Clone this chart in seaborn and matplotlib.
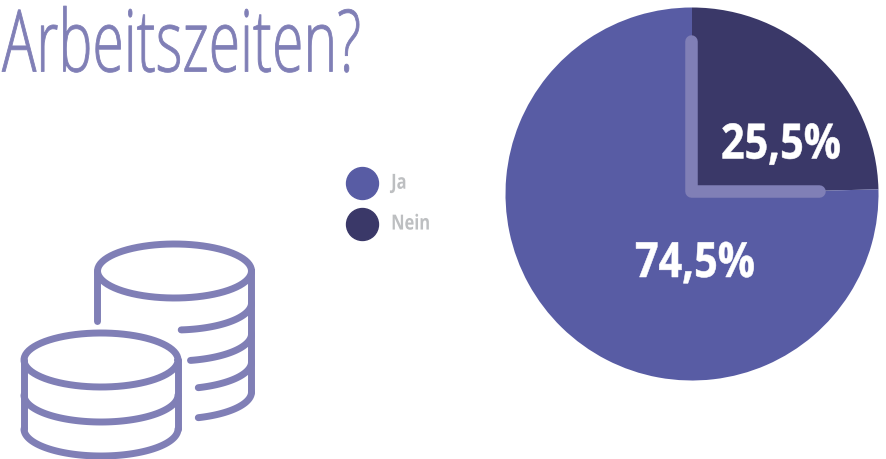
#!/usr/bin/env python
import matplotlib
matplotlib.use('Agg')
import matplotlib.pyplot as plt
from matplotlib.lines import Line2D
from matplotlib.patheffects import AbstractPathEffect
from matplotlib.transforms import Affine2D
import numpy as np
import seaborn as sns

CATEGORIES = ['Ja', 'Nein']
PCT_LABELS = [74.5, 25.5]
# wedge sizes as they are drawn in the picture (dark slice stops just above 3 o'clock)
WEDGE_SHARES = [75.4, 24.6]
COLORS = ['#585CA4', '#3A3868']
ICON = '#807FB6'
FONT = ['Open Sans', 'DejaVu Sans']


class Squeeze(AbstractPathEffect):
    # condensed look: the installed fonts have no narrow cut
    def __init__(self, sx, dy=0, bold=0):
        super().__init__()
        self.sx = sx
        self.dy = dy
        self.bold = bold

    def draw_path(self, renderer, gc, tpath, affine, rgbFace=None):
        aff = Affine2D().scale(self.sx, 1) + affine + Affine2D().translate(0, self.dy)
        renderer.draw_path(gc, tpath, aff, rgbFace)
        if self.bold:
            gc0 = renderer.new_gc()
            gc0.copy_properties(gc)
            gc0.set_foreground(rgbFace)
            gc0.set_linewidth(self.bold)
            renderer.draw_path(gc0, tpath, aff, None)
            gc0.restore()


sns.set_theme(style='white')
plt.rcParams['font.family'] = FONT

fig = plt.figure(figsize=(8.87, 4.6), dpi=100)
ax = fig.add_axes([0, 0, 1, 1])

# pie, clockwise from 12 o'clock (y axis is flipped so counterclock=True runs clockwise)
ax.pie(WEDGE_SHARES[::-1], colors=COLORS[::-1], center=(692, 195), radius=186.5,
       startangle=-90, counterclock=True, frame=True, wedgeprops={'linewidth': 0})
ax.set_xlim(0, 887)
ax.set_ylim(460, 0)
ax.set_aspect('auto')
ax.axis('off')

# clock hands on top of the pie
ax.plot([691.5, 691.5, 819], [42, 192, 192], color=ICON, lw=9,
        solid_capstyle='round', solid_joinstyle='round')

ax.text(721, 159.5, '%s%%' % str(PCT_LABELS[1]).replace('.', ','), color='white', fontsize=35,
        fontweight='bold', ha='left', va='baseline', path_effects=[Squeeze(0.85, bold=0.4)])
ax.text(635, 278, '%s%%' % str(PCT_LABELS[0]).replace('.', ','), color='white', fontsize=35,
        fontweight='bold', ha='left', va='baseline', path_effects=[Squeeze(0.85, bold=0.4)])

ax.text(2, 72.5, 'Arbeitszeiten?', color=ICON, fontsize=62, fontweight=300, ha='left',
        va='baseline', path_effects=[Squeeze(0.663, bold=0.6)])

# legend
handles = [Line2D([], [], ls='', marker='o', ms=23, color=c) for c in COLORS]
leg = ax.legend(handles, CATEGORIES, frameon=False, loc='upper left',
                bbox_to_anchor=(322 / 887, 1 - 157 / 460), handletextpad=0.42,
                labelspacing=0.95, prop={'family': FONT, 'weight': 'bold', 'size': 15})
for t in leg.get_texts():
    t.set_color('#BDBFC1')
    t.set_path_effects([Squeeze(0.79, dy=2)])


# coin icon
def ell(cx, cy, t0, t1, rx=77, ry=27):
    t = np.radians(np.linspace(t0, t1, 80))
    ax.plot(cx + rx * np.cos(t), cy + ry * np.sin(t), color=ICON, lw=5,
            solid_capstyle='round')


ell(174.5, 272, 0, 360)
ax.plot([97, 97], [272, 322], color=ICON, lw=5, solid_capstyle='round')
ax.plot([251.5, 251.5], [272, 393], color=ICON, lw=5, solid_capstyle='round')
ell(174.5, 304, 85, 0)
ell(174.5, 335, 78, 0)
ell(174.5, 363, 72, 0)
ell(174.5, 393, 72, 0)

ell(101, 361, 0, 360)
ax.plot([24, 24], [361, 430], color=ICON, lw=5, solid_capstyle='round')
ax.plot([178, 178], [361, 430], color=ICON, lw=5, solid_capstyle='round')
ell(101, 396, 0, 180)
ell(101, 430, 0, 180)

fig.savefig('out.png', dpi=100)
